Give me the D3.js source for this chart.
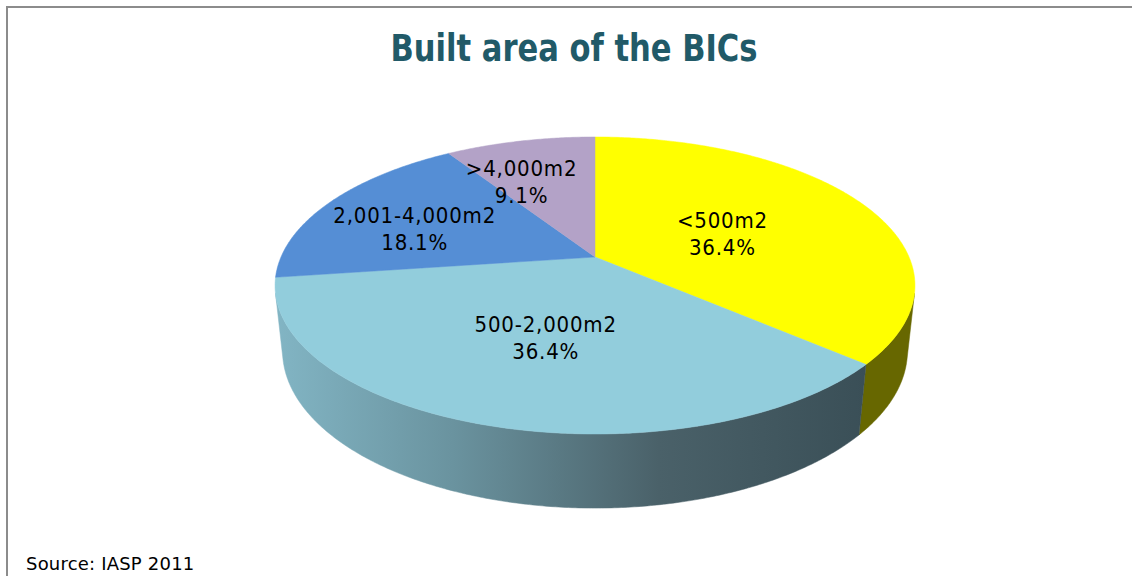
<!DOCTYPE html>
<html>
<head>
<meta charset="utf-8">
<script src="https://cdn.jsdelivr.net/npm/d3@7"></script>
<style>
  html, body { margin: 0; padding: 0; background: #ffffff; }
  svg { display: block; }
</style>
</head>
<body>
<svg id="chart" width="1132" height="576"></svg>
<script>
// ---- data ----
const categories = ["<500m2", "500-2,000m2", "2,001-4,000m2", ">4,000m2"];
const values = [36.4, 36.4, 18.1, 9.1];
const valueLabels = ["36.4%", "36.4%", "18.1%", "9.1%"];
const title = "Built area of the BICs";
const source = "Source: IASP 2011";

// ---- style ----
const topColors = ["#FFFF00", "#92CDDC", "#558ED5", "#B3A2C7"];
const sideColors = ["#676700", "url(#gLight)", "#2f4f7a", "#6b6178"];
const narrow = "'DejaVu Sans Condensed', 'DejaVu Sans', sans-serif";

const W = 1132, H = 576;
const svg = d3.select("#chart");

// frame
svg.append("line").attr("x1", 6).attr("x2", W).attr("y1", 7).attr("y2", 7)
  .attr("stroke", "#8c8c8c").attr("stroke-width", 2);
svg.append("line").attr("x1", 7).attr("x2", 7).attr("y1", 6).attr("y2", H)
  .attr("stroke", "#8c8c8c").attr("stroke-width", 2);

// title
svg.append("text")
  .attr("x", 574).attr("y", 61)
  .attr("text-anchor", "middle")
  .attr("font-family", narrow)
  .attr("font-weight", "bold")
  .attr("font-size", 37)
  .attr("fill", "#215A68")
  .attr("textLength", 367)
  .attr("lengthAdjust", "spacingAndGlyphs")
  .text(title);

// ---- 3D perspective projection of the pie ----
const cam = { cx: 595, cy: 257, D: 4.64, alpha: 27.1 * Math.PI / 180, h: 0.235 };
cam.f = 314 * cam.D;
const ca = Math.cos(cam.alpha), sa = Math.sin(cam.alpha);
function proj(theta, r, z) {
  const X = r * Math.sin(theta), Y = r * Math.cos(theta);
  const depth = cam.D + Y * ca - z * sa;
  return [cam.cx + cam.f * X / depth, cam.cy - cam.f * (Y * sa + z * ca) / depth];
}
function arcPts(a0, a1, z) {
  const n = Math.max(2, Math.ceil(Math.abs(a1 - a0) / (Math.PI / 360)));
  return d3.range(n + 1).map(i => proj(a0 + (a1 - a0) * i / n, 1, z));
}

const pie = d3.pie().sort(null).value(d => d).startAngle(0).endAngle(2 * Math.PI);
const arcs = pie(values);

// visible range of the outer wall
const visA = Math.acos(-1 / (cam.D * ca));
const visB = 2 * Math.PI - visA;

const line = d3.line();

// gradient for the light-blue wall
const lb = arcs[1];
const lbT0 = Math.max(lb.startAngle, visA), lbT1 = Math.min(lb.endAngle, visB);
const lbPts = arcPts(lbT0, lbT1, 0).concat(arcPts(lbT1, lbT0, -cam.h));
const lbX = d3.extent(lbPts, p => p[0]);
const defs = svg.append("defs");
const grad = defs.append("linearGradient").attr("id", "gLight")
  .attr("gradientUnits", "userSpaceOnUse")
  .attr("x1", lbX[1]).attr("x2", lbX[0]).attr("y1", 0).attr("y2", 0);
grad.append("stop").attr("offset", 0).attr("stop-color", "#3a4f57");
grad.append("stop").attr("offset", 0.35).attr("stop-color", "#4a6169");
grad.append("stop").attr("offset", 0.7).attr("stop-color", "#6a939f");
grad.append("stop").attr("offset", 1).attr("stop-color", "#82b5c4");

// walls
const gWall = svg.append("g");
arcs.forEach((a, i) => {
  const t0 = Math.max(a.startAngle, visA), t1 = Math.min(a.endAngle, visB);
  if (t1 <= t0) return;
  const pts = arcPts(t0, t1, 0).concat(arcPts(t1, t0, -cam.h));
  gWall.append("path").attr("d", line(pts) + "Z")
    .attr("fill", sideColors[i]).attr("stroke", sideColors[i]).attr("stroke-width", 0.5);
});

// top faces
const gTop = svg.append("g");
arcs.forEach((a, i) => {
  const pts = [proj(0, 0, 0)].concat(arcPts(a.startAngle, a.endAngle, 0));
  gTop.append("path").attr("d", line(pts) + "Z")
    .attr("fill", topColors[i]).attr("stroke", topColors[i]).attr("stroke-width", 0.5);
});

// labels
const labelR = [0.5, 0.5, 0.65, 0.65];
const nudge = [[-10, 4], [0, 4], [-4, 7], [-22, 3]];
const gLab = svg.append("g")
  .attr("font-family", narrow)
  .attr("font-size", 22)
  .attr("letter-spacing", 0.8)
  .attr("fill", "#000")
  .attr("text-anchor", "middle");
arcs.forEach((a, i) => {
  const mid = (a.startAngle + a.endAngle) / 2;
  const p = proj(mid, labelR[i], 0);
  const x = p[0] + nudge[i][0], y = p[1] + nudge[i][1];
  gLab.append("text").attr("x", x).attr("y", y - 4).text(categories[i]);
  gLab.append("text").attr("x", x).attr("y", y + 23).text(valueLabels[i]);
});

// source
svg.append("text")
  .attr("x", 26).attr("y", 570)
  .attr("font-family", "'DejaVu Sans', sans-serif")
  .attr("font-size", 18)
  .attr("letter-spacing", 0.2)
  .attr("fill", "#000")
  .text(source);
</script>
</body>
</html>
